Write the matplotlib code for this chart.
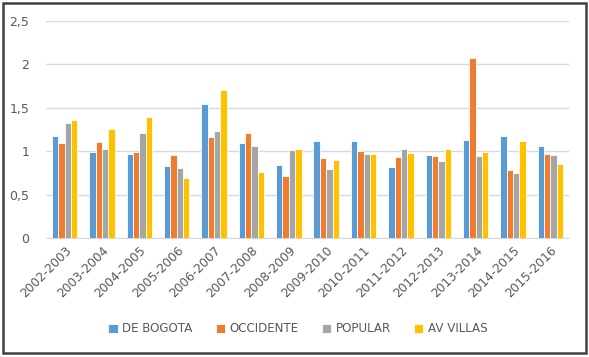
import matplotlib
matplotlib.use("Agg")
import matplotlib.pyplot as plt
import numpy as np
from matplotlib.patches import Rectangle

periods = ["2002-2003", "2003-2004", "2004-2005", "2005-2006", "2006-2007",
           "2007-2008", "2008-2009", "2009-2010", "2010-2011", "2011-2012",
           "2012-2013", "2013-2014", "2014-2015", "2015-2016"]
de_bogota = [1.17, 0.99, 0.97, 0.83, 1.54, 1.09, 0.84, 1.12, 1.12, 0.82, 0.96, 1.13, 1.18, 1.06]
occidente = [1.10, 1.11, 0.99, 0.96, 1.16, 1.21, 0.71, 0.92, 1.00, 0.93, 0.94, 2.07, 0.78, 0.97]
popular   = [1.32, 1.03, 1.21, 0.81, 1.23, 1.06, 1.01, 0.80, 0.97, 1.02, 0.89, 0.94, 0.75, 0.96]
av_villas = [1.36, 1.26, 1.39, 0.69, 1.70, 0.76, 1.02, 0.90, 0.97, 0.98, 1.03, 0.99, 1.12, 0.85]
series_names = ["DE BOGOTA", "OCCIDENTE", "POPULAR", "AV VILLAS"]
yticks = [0, 0.5, 1, 1.5, 2, 2.5]
ytick_labels = ["0", "0,5", "1", "1,5", "2", "2,5"]

colors = ["#5B9BD5", "#ED7D31", "#A5A5A5", "#FFC000"]
text_color = "#595959"

fig = plt.figure(figsize=(5.89, 3.57), dpi=100)
ax = fig.add_axes([46/589, (357-238)/357, (569-46)/589, (238-21)/357])

x = np.arange(len(periods))
bw = 0.17
data = [de_bogota, occidente, popular, av_villas]
for i, (vals, name, c) in enumerate(zip(data, series_names, colors)):
    ax.bar(x + (i - 1.5) * bw, vals, width=bw, color=c, edgecolor="white",
           linewidth=0.6, label=name, zorder=3)

ax.set_xlim(-0.5, len(periods) - 0.5)
ax.set_ylim(0, 2.5)
ax.set_yticks(yticks)
ax.set_yticklabels(ytick_labels, fontsize=9, color=text_color)
ax.set_xticks(x)
ax.set_xticklabels(periods, rotation=45, ha="right", rotation_mode="anchor",
                   fontsize=8.8, color=text_color)
ax.tick_params(axis="both", length=0, pad=4)
ax.tick_params(axis="y", pad=12)
ax.grid(axis="y", color="#D9D9D9", linewidth=1, zorder=0)
for s in ["top", "right", "left"]:
    ax.spines[s].set_visible(False)
ax.spines["bottom"].set_color("#D9D9D9")

leg = fig.legend(loc="center", bbox_to_anchor=(298/589, 1 - 329/357), ncol=4,
                 frameon=False, fontsize=8.6, handlelength=0.8, handleheight=0.8,
                 columnspacing=1.9, handletextpad=0.4)
for t in leg.get_texts():
    t.set_color(text_color)

fig.patches.append(Rectangle((3/589, 1 - 353/357), 583/589, 350/357,
                             transform=fig.transFigure, fill=False,
                             edgecolor="#404040", linewidth=1.8))

fig.savefig("out.png", dpi=100)
